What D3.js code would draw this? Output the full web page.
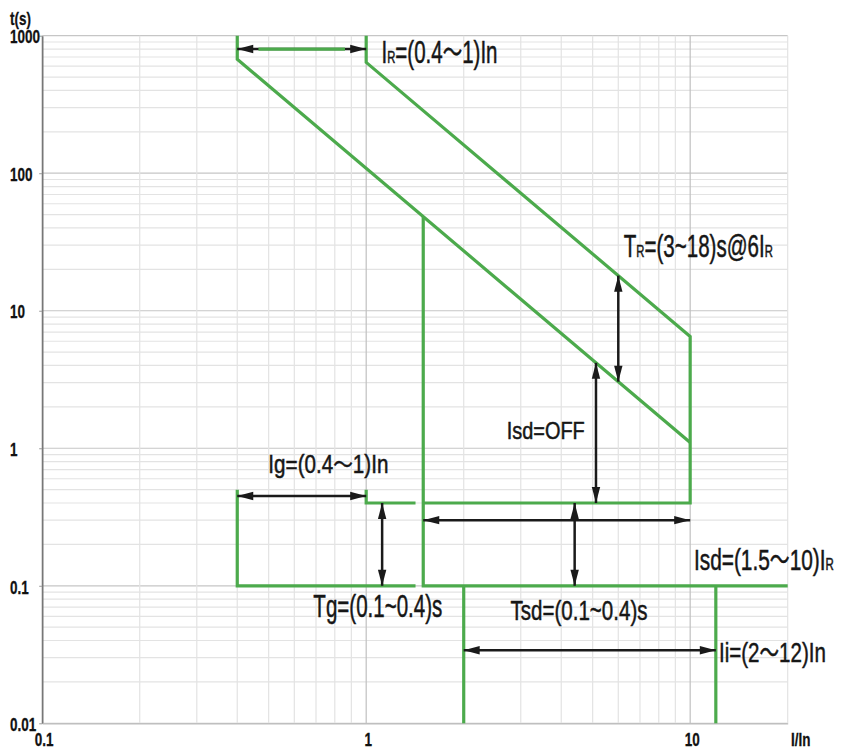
<!DOCTYPE html>
<html><head><meta charset="utf-8">
<script src="https://cdn.jsdelivr.net/npm/d3@7"></script>
<style>body{margin:0;background:#fff} svg{display:block}</style>
</head><body><svg id="c" width="847" height="752"></svg>
<script>
// ---- data ----
const xDomain = [0.1, 20];
const yDomain = [0.01, 1000];
const xTickValues = [0.1, 1, 10];
const yTickValues = [0.01, 0.1, 1, 10, 100, 1000];
const xTitle = "I/In";
const yTitle = "t(s)";

// green protection curves [I/In, t(s)]
const ltCurveLow  = [[0.4, 1000], [0.4, 675], [10, 1.1]];
const ltCurveHigh = [[1, 1000], [1, 640], [10, 6.5], [10, 0.4], [1.5, 0.4]];
const sdCurve     = [[1.5, 48.3], [1.5, 0.1], [20, 0.1]];
const instLeft    = [[2, 0.1], [2, 0.01]];
const instRight   = [[12, 0.1], [12, 0.01]];
const gfLow       = [[0.4, 0.5], [0.4, 0.1], [1.42, 0.1]];
const gfHigh      = [[1, 0.5], [1, 0.4], [1.42, 0.4]];
const irShaftGreen = [[0.465, 800], [0.86, 800]];

// double-headed arrows
const arrows = [
  [[0.4, 800], [1, 800]],
  [[6, 18], [6, 3.05]],
  [[5.12, 4.18], [5.12, 0.4]],
  [[1.5, 0.3], [10, 0.3]],
  [[4.4, 0.4], [4.4, 0.1]],
  [[0.4, 0.45], [1, 0.45]],
  [[1.12, 0.4], [1.12, 0.1]],
  [[2, 0.034], [12, 0.034]]
];

// annotation texts ("_R" = small subscript R) and their anchors (left, baseline)
const labelTexts = ["I_R=(0.4～1)In", "T_R=(3~18)s@6I_R", "Isd=OFF", "Ig=(0.4～1)In",
  "Tg=(0.1~0.4)s", "Isd=(1.5～10)I_R", "Tsd=(0.1~0.4)s", "Ii=(2～12)In"];
const labelAnchors = [[1.115, 632], [6.24, 24.6], [2.715, 1.167], [0.499, 0.661],
  [0.687, 0.0592], [10.27, 0.130], [2.79, 0.0564], [12.27, 0.0279]];

// ---- layout / style ----
const labelWidths = [116, 149, 78, 120, 129, 140, 137, 107];
const labelCaps   = [22, 22, 17, 18, 22, 21, 20, 20];
const GREEN = "#4caa4c", BLACK = "#1a1a1a";
const FONT = "'Liberation Sans Narrow','Arial Narrow','Liberation Sans',Arial,sans-serif";
const CJK = "'Noto Sans CJK SC','Noto Sans CJK JP',sans-serif";

const svg = d3.select("#c");
const x = d3.scaleLog().domain(xDomain).range([42.2, 787.7]);
const y = d3.scaleLog().domain(yDomain).range([723.3, 35.7]);
const isDecade = v => Math.abs(Math.log10(v) - Math.round(Math.log10(v))) < 1e-6;

// grid
const grid = svg.append("g");
grid.selectAll("line.gy").data(y.ticks()).join("line").attr("class", "gy")
  .attr("x1", x(xDomain[0])).attr("x2", x(xDomain[1]))
  .attr("y1", d => y(d)).attr("y2", d => y(d))
  .attr("stroke", d => isDecade(d) ? "#c6c6c6" : "#e3e3e3").attr("stroke-width", 1.2);
grid.selectAll("line.gx").data(x.ticks()).join("line").attr("class", "gx")
  .attr("y1", y(yDomain[0])).attr("y2", y(yDomain[1]))
  .attr("x1", d => x(d)).attr("x2", d => x(d))
  .attr("stroke", d => isDecade(d) ? "#c0c0c0" : "#e3e3e3").attr("stroke-width", 1.2);

// axes
const gY = svg.append("g").attr("transform", `translate(${x(xDomain[0])},0)`)
  .call(d3.axisLeft(y).tickValues(yTickValues).tickSize(3).tickSizeOuter(0).tickFormat(d => String(d)));
gY.select(".domain").attr("stroke", "#777").attr("stroke-width", 1.6);
gY.selectAll(".tick line").attr("stroke", "#999");
const gX = svg.append("g").attr("transform", `translate(0,${y(yDomain[0])})`)
  .call(d3.axisBottom(x).tickValues(xTickValues).tickSize(0).tickSizeOuter(0).tickFormat(d => String(d)));
gX.select(".domain").attr("stroke", "#bdbdbd").attr("stroke-width", 1.2);

const TFS = 19;
svg.selectAll(".tick text").attr("font-family", FONT).attr("font-size", TFS)
  .attr("font-weight", "bold").attr("fill", "#111").attr("stroke", "#111").attr("stroke-width", 0.3);
// horizontal condensing factor from the "1000" label (target ~30px)
let s = 1;
gY.selectAll(".tick text").each(function (d) { if (d === 1000) s = 30 / this.getBBox().width; });
s = Math.min(s, 1.2);
gY.selectAll(".tick text").attr("x", 0).attr("dy", "0.38em").attr("text-anchor", "start")
  .attr("transform", `translate(${10 - x(xDomain[0])},0) scale(${s},1)`);
gX.selectAll(".tick text").attr("y", 0).attr("dy", 0).attr("text-anchor", "middle")
  .attr("transform", `translate(1.5,23) scale(${s},1)`);

svg.append("text").text(yTitle).attr("font-family", FONT).attr("font-size", TFS).attr("font-weight", "bold")
  .attr("fill", "#111").attr("stroke", "#111").attr("stroke-width", 0.3)
  .attr("transform", `translate(10,24.5) scale(${s},1)`);
svg.append("text").text(xTitle).attr("font-family", FONT).attr("font-size", TFS).attr("font-weight", "bold")
  .attr("fill", "#111").attr("stroke", "#111").attr("stroke-width", 0.3)
  .attr("transform", `translate(791,746) scale(${s},1)`);

// curves
const line = d3.line().x(d => x(d[0])).y(d => y(d[1]));
const curves = [ltCurveLow, ltCurveHigh, sdCurve, instLeft, instRight, gfLow, gfHigh];
svg.append("g").selectAll("path").data(curves).join("path")
  .attr("d", line).attr("fill", "none").attr("stroke", GREEN).attr("stroke-width", 3.2)
  .attr("stroke-linejoin", "miter");

// arrows
const ga = svg.append("g");
function head(tx, ty, fx, fy) {
  const a = Math.atan2(ty - fy, tx - fx), L = 16, hw = 4.2;
  const bx = tx - L * Math.cos(a), by = ty - L * Math.sin(a);
  const px = -Math.sin(a) * hw, py = Math.cos(a) * hw;
  ga.append("path").attr("d", `M${tx},${ty}L${bx + px},${by + py}L${bx - px},${by - py}Z`)
    .attr("fill", BLACK);
}
arrows.forEach(([p1, p2]) => {
  const x1 = x(p1[0]), y1 = y(p1[1]), x2 = x(p2[0]), y2 = y(p2[1]);
  ga.append("line").attr("x1", x1).attr("y1", y1).attr("x2", x2).attr("y2", y2)
    .attr("stroke", BLACK).attr("stroke-width", 2.5);
  head(x1, y1, x2, y2);
  head(x2, y2, x1, y1);
});
svg.append("path").datum(irShaftGreen).attr("d", line).attr("stroke", GREEN)
  .attr("stroke-width", 3.2).attr("fill", "none");

// labels
const gl = svg.append("g");
labelTexts.forEach((txt, i) => {
  const fs = labelCaps[i] / 0.716;
  const t = gl.append("text").attr("font-family", FONT).attr("font-size", fs)
    .attr("fill", "#161616").attr("stroke", "#161616").attr("stroke-width", 0.5);
  // tokenize: "_R" -> small R, "～" -> wide CJK tilde
  const tokens = txt.split(/(_R|～)/).filter(p => p.length);
  tokens.forEach(p => {
    if (p === "_R") t.append("tspan").text("R").attr("font-size", fs * 0.55);
    else if (p === "～") t.append("tspan").text("～").attr("font-family", CJK).attr("font-size", fs * 0.95);
    else t.append("tspan").text(p);
  });
  const w = t.node().getBBox().width;
  const sc = labelWidths[i] / w;
  const [ax, ay] = labelAnchors[i];
  t.attr("transform", `translate(${x(ax)},${y(ay)}) scale(${sc},1)`);
});
</script></body></html>
